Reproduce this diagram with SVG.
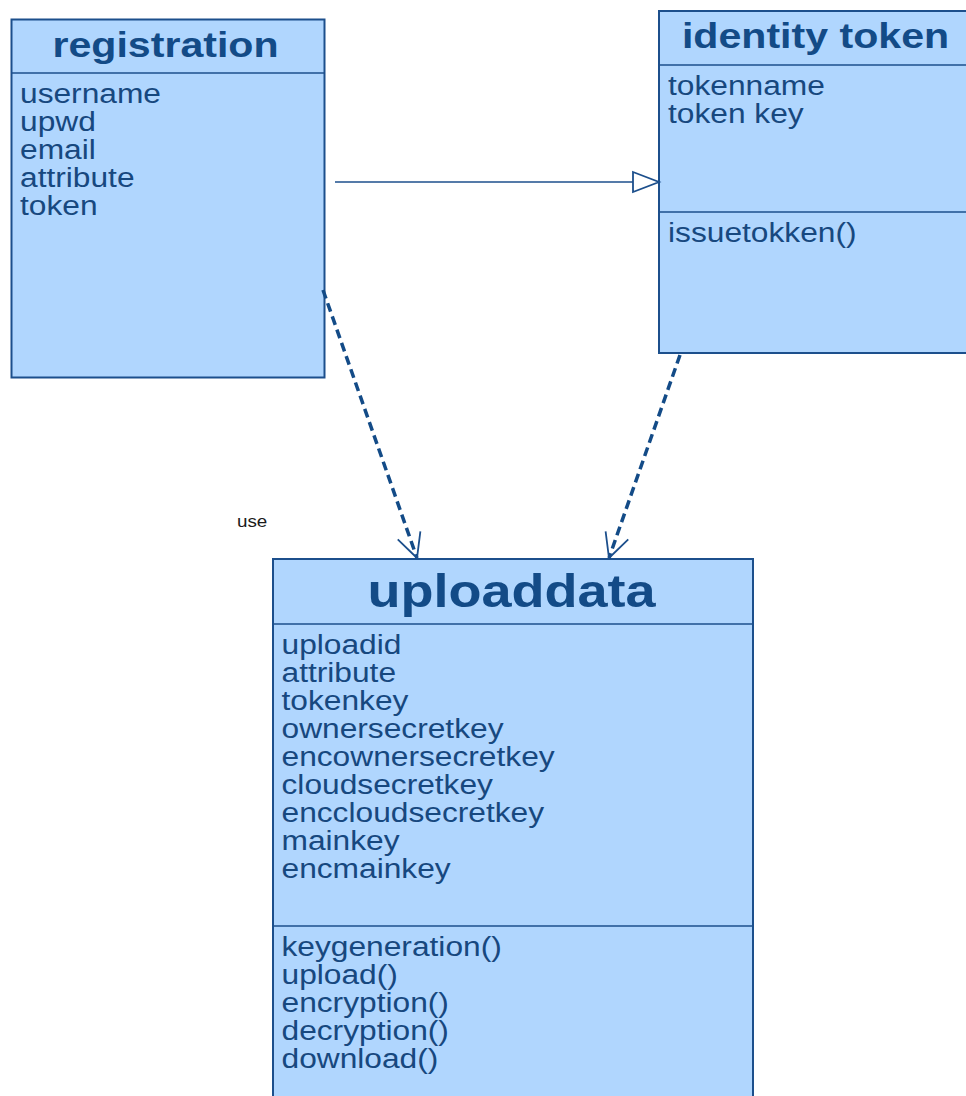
<svg xmlns="http://www.w3.org/2000/svg" width="966" height="1096" viewBox="0 0 966 1096">
  <style>
    .box { fill: #B0D6FE; stroke: #1C4F8C; stroke-width: 2; }
    .sep { stroke: #1C4F8C; stroke-width: 1.6; fill: none; }
    .title { font-family: "Liberation Sans", Arial, sans-serif; font-weight: bold; fill: #134B87; text-anchor: middle; }
    .item { font-family: "Liberation Sans", Arial, sans-serif; font-size: 27px; fill: #17487F; }
    .dep { stroke: #134B87; stroke-width: 3.5; stroke-dasharray: 9 5; fill: none; }
    .gen { stroke: #1C4F8C; stroke-width: 1.6; fill: none; }
    .lbl { font-family: "Liberation Sans", Arial, sans-serif; font-size: 16px; fill: #1a1a1a; }
  </style>
  <defs>
    <marker id="openArrow" markerUnits="userSpaceOnUse" markerWidth="40" markerHeight="40" viewBox="-30 -20 40 40" refX="0" refY="0" orient="auto">
      <path d="M -24,-12 L 0,0 L -24,12" fill="none" stroke="#1C4F8C" stroke-width="1.8"/>
    </marker>
    <marker id="hollowTriangle" markerUnits="userSpaceOnUse" markerWidth="40" markerHeight="30" viewBox="-30 -15 40 30" refX="0" refY="0" orient="auto">
      <path d="M -26,-10 L 0,0 L -26,10 Z" fill="#FFFFFF" stroke="#1C4F8C" stroke-width="1.8"/>
    </marker>
  </defs>

  <!-- registration class -->
  <g id="registration">
    <rect class="box" x="11.5" y="19.5" width="313" height="358"/>
    <line class="sep" x1="11.5" y1="73" x2="324.5" y2="73"/>
    <g transform="translate(165.5 0) scale(1.175 1)">
      <text class="title" x="0" y="57" font-size="35">registration</text>
    </g>
    <g transform="translate(20 0) scale(1.175 1)">
      <text class="item" x="0" y="103">username</text>
      <text class="item" x="0" y="131">upwd</text>
      <text class="item" x="0" y="159">email</text>
      <text class="item" x="0" y="187">attribute</text>
      <text class="item" x="0" y="215">token</text>
    </g>
  </g>

  <!-- identity token class -->
  <g id="identity-token">
    <rect class="box" x="659" y="11" width="330" height="342"/>
    <line class="sep" x1="659" y1="65" x2="966" y2="65"/>
    <line class="sep" x1="659" y1="212" x2="966" y2="212"/>
    <g transform="translate(815.5 0) scale(1.175 1)">
      <text class="title" x="0" y="48" font-size="35">identity token</text>
    </g>
    <g transform="translate(668 0) scale(1.175 1)">
      <text class="item" x="0" y="95">tokenname</text>
      <text class="item" x="0" y="123">token key</text>
      <text class="item" x="0" y="242">issuetokken()</text>
    </g>
  </g>

  <!-- uploaddata class -->
  <g id="uploaddata">
    <rect class="box" x="273" y="559" width="480" height="560"/>
    <line class="sep" x1="273" y1="624" x2="753" y2="624"/>
    <line class="sep" x1="273" y1="926" x2="753" y2="926"/>
    <g transform="translate(511.5 0) scale(1.175 1)">
      <text class="title" x="0" y="607" font-size="46">uploaddata</text>
    </g>
    <g transform="translate(281.5 0) scale(1.175 1)">
      <text class="item" x="0" y="654">uploadid</text>
      <text class="item" x="0" y="682">attribute</text>
      <text class="item" x="0" y="710">tokenkey</text>
      <text class="item" x="0" y="738">ownersecretkey</text>
      <text class="item" x="0" y="766">encownersecretkey</text>
      <text class="item" x="0" y="794">cloudsecretkey</text>
      <text class="item" x="0" y="822">enccloudsecretkey</text>
      <text class="item" x="0" y="850">mainkey</text>
      <text class="item" x="0" y="878">encmainkey</text>
      <text class="item" x="0" y="956">keygeneration()</text>
      <text class="item" x="0" y="984">upload()</text>
      <text class="item" x="0" y="1012">encryption()</text>
      <text class="item" x="0" y="1040">decryption()</text>
      <text class="item" x="0" y="1068">download()</text>
    </g>
  </g>

  <!-- connectors -->
  <g id="connectors">
    <line class="gen" x1="335" y1="182" x2="659" y2="182" marker-end="url(#hollowTriangle)"/>
    <line class="dep" x1="323" y1="290" x2="417" y2="558" marker-end="url(#openArrow)"/>
    <line class="dep" x1="680" y1="355" x2="609" y2="558" marker-end="url(#openArrow)"/>
    <g transform="translate(237 527) scale(1.175 1)">
      <text class="lbl" x="0" y="0">use</text>
    </g>
  </g>
</svg>
